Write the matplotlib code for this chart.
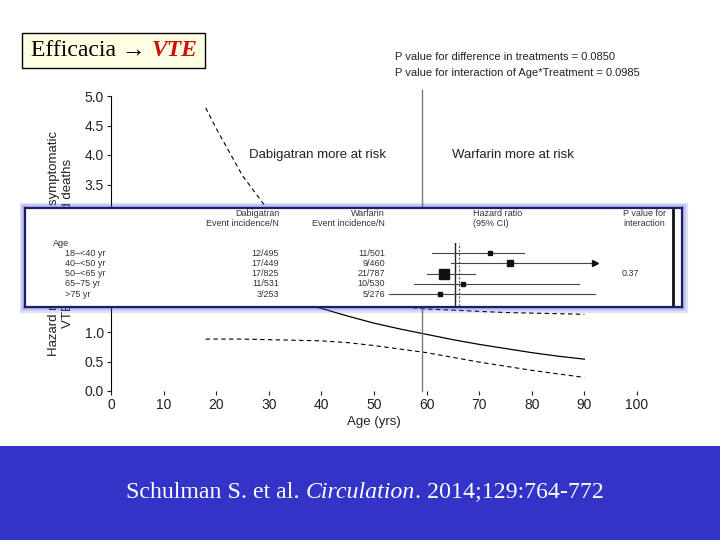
import matplotlib
matplotlib.use('Agg')
import matplotlib.pyplot as plt
from matplotlib.patches import Rectangle
from matplotlib.transforms import blended_transform_factory

plt.rcParams['font.family'] = ['Liberation Sans', 'DejaVu Sans']

# hazard ratio curve vs age
age = [18, 20, 25, 30, 35, 40, 45, 50, 55, 60, 65, 70, 75, 80, 85, 90]
hr_est = [2.08, 2.00, 1.82, 1.66, 1.51, 1.40, 1.27, 1.15, 1.05, 0.96, 0.87, 0.79, 0.72, 0.65, 0.59, 0.54]
hr_upper = [4.80, 4.45, 3.65, 3.05, 2.45, 1.95, 1.65, 1.50, 1.43, 1.39, 1.37, 1.35, 1.33, 1.32, 1.31, 1.30]
hr_lower = [0.88, 0.88, 0.88, 0.87, 0.86, 0.85, 0.82, 0.77, 0.71, 0.65, 0.57, 0.49, 0.42, 0.35, 0.29, 0.23]
cut_age = 59.1
x_ticks = [0, 10, 20, 30, 40, 50, 60, 70, 80, 90, 100]
y_ticks = [0.0, 0.5, 1.0, 1.5, 2.0, 2.5, 3.0, 3.5, 4.0, 4.5, 5.0]

# subgroup table (inset)
age_groups = ['18\u2013<40 yr', '40\u2013<50 yr', '50\u2013<65 yr', '65\u201375 yr', '>75 yr']
dabi_n = ['12/495', '17/449', '17/825', '11/531', '3/253']
warf_n = ['11/501', '9/460', '21/787', '10/530', '5/276']
sub_hr = [2.18, 3.40, 0.78, 1.19, 0.72]
sub_lo = [0.60, 0.91, 0.54, 0.40, 0.23]
sub_hi = [4.63, 22.4, 1.56, 15.7, 22.4]
sub_arrow = [False, True, False, False, False]
sub_size = [3, 4.5, 6.5, 3, 3.5]
overall_hr = 1.09
p_interaction = '0.37'

W, H = 720, 540
fx = lambda px: px / W
fy = lambda py: 1 - py / H

fig = plt.figure(figsize=(7.2, 5.4), dpi=100)

# main chart
ax = fig.add_axes([fx(111), fy(391), fx(637) - fx(111), fy(96) - fy(391)])
ax.plot(age, hr_est, color='black', lw=0.9)
ax.plot(age, hr_upper, color='black', lw=0.8, ls=(0, (4, 3)))
ax.plot(age, hr_lower, color='black', lw=0.8, ls=(0, (4, 3)))
ax.axvline(cut_age, ymin=0, ymax=5.1 / 5, color='#777777', lw=1, clip_on=False)
ax.text(26.2, 4.0, 'Dabigatran more at risk', va='center', fontsize=9.5, color='#222222')
ax.text(64.8, 4.0, 'Warfarin more at risk', va='center', fontsize=9.5, color='#222222')
ax.set_xlim(0, 100)
ax.set_ylim(0, 5)
ax.set_xticks(x_ticks)
ax.set_yticks(y_ticks)
ax.set_yticklabels(['%.1f' % v for v in y_ticks])
ax.tick_params(labelsize=10, colors='#222222', length=3, width=0.8, pad=2)
for s in ['top', 'right', 'bottom']:
    ax.spines[s].set_visible(False)
ax.spines['left'].set_linewidth(0.8)
ax.set_xlabel('Age (yrs)', fontsize=9.5, color='#222222', labelpad=3)
ax.set_ylabel('Hazard ratio for recurrent symptomatic\nVTE and VTE-related deaths',
              fontsize=9.5, color='#222222', labelpad=8)
ax.patch.set_alpha(0)

fig.text(fx(395), fy(57), 'P value for difference in treatments = 0.0850', va='center', fontsize=8, color='#222222')
fig.text(fx(395), fy(73), 'P value for interaction of Age*Treatment = 0.0985', va='center', fontsize=8, color='#222222')

# inset with soft glow
ix0, ix1, iy0, iy1 = 25, 682, 208, 307
for lw in [8, 5.5, 3]:
    fig.add_artist(Rectangle((fx(ix0), fy(iy1)), fx(ix1) - fx(ix0), fy(iy0) - fy(iy1),
                             transform=fig.transFigure, fill=False, edgecolor='#5050d8',
                             lw=lw, alpha=0.18, zorder=4))
inset = fig.add_axes([fx(ix0), fy(iy1), fx(ix1) - fx(ix0), fy(iy0) - fy(iy1)], zorder=5)
inset.set_xticks([])
inset.set_yticks([])
for s in inset.spines.values():
    s.set_color('#1e1e66')
    s.set_linewidth(1.6)
inset.set_xlim(0, 1)
inset.axvline(0.986, color='#111111', lw=2)

# forest plot
fax = fig.add_axes([fx(380), fy(306), fx(600) - fx(380), fy(243) - fy(306)], zorder=6)
fax.patch.set_alpha(0)
fax.set_xscale('log')
fax.set_xlim(0.189, 25.1)
fax.set_ylim(5.17, -0.98)
fax.axis('off')
fax.axvline(1, color='#222222', lw=1)
fax.axvline(overall_hr, color='#555555', lw=0.8, ls=(0, (2, 1.5)))
for i in range(len(sub_hr)):
    fax.plot([sub_lo[i], sub_hi[i]], [i, i], color='#444444', lw=0.8)
    fax.plot(sub_hr[i], i, marker='s', ms=sub_size[i], color='#111111')
    if sub_arrow[i]:
        fax.plot(sub_hi[i], i, marker='>', ms=4, color='#111111', clip_on=False)

tr = blended_transform_factory(fig.transFigure, fax.transData)
tcol = '#333333'
fs = 6.5
for i in range(len(age_groups)):
    fax.text(fx(65), i, age_groups[i], transform=tr, va='center', fontsize=fs, color=tcol)
    fax.text(fx(279), i, dabi_n[i], transform=tr, va='center', ha='right', fontsize=fs, color=tcol)
    fax.text(fx(385), i, warf_n[i], transform=tr, va='center', ha='right', fontsize=fs, color=tcol)
fax.text(fx(622), 2, p_interaction, transform=tr, va='center', fontsize=fs, color=tcol)
fax.text(fx(53), fy(244), 'Age', transform=fig.transFigure, va='center', fontsize=fs, color=tcol)
fax.text(fx(279), fy(218.5), 'Dabigatran\nEvent incidence/N', transform=fig.transFigure,
         va='center', ha='right', multialignment='right', fontsize=fs, color=tcol)
fax.text(fx(385), fy(218.5), 'Warfarin\nEvent incidence/N', transform=fig.transFigure,
         va='center', ha='right', multialignment='right', fontsize=fs, color=tcol)
fax.text(fx(473), fy(218.5), 'Hazard ratio\n(95% CI)', transform=fig.transFigure,
         va='center', fontsize=fs, color=tcol)
fax.text(fx(623), fy(218.5), 'P value for\ninteraction', transform=fig.transFigure,
         va='center', fontsize=fs, color=tcol)

# title box and footer band
fig.add_artist(Rectangle((fx(22), fy(68)), fx(205) - fx(22), fy(33) - fy(68),
                         transform=fig.transFigure, facecolor='#ffffe4', edgecolor='black', lw=1, zorder=2))
fig.add_artist(Rectangle((0, 0), 1, fy(446), transform=fig.transFigure,
                         facecolor='#3333c8', edgecolor='none', zorder=2))

serif = ['Liberation Serif', 'DejaVu Serif']
renderer = fig.canvas.get_renderer()


def chain(parts, x, y, **kw):
    for s, style in parts:
        t = fig.text(x, y, s, family=serif, va='center', zorder=3, **kw, **style)
        bb = t.get_window_extent(renderer=renderer)
        x = bb.x1 / fig.bbox.width


chain([('Efficacia \u2192 ', {'color': 'black'}),
       ('VTE', {'color': '#cc1111', 'style': 'italic', 'weight': 'bold'})],
      fx(31), fy(50), fontsize=17)
chain([('Schulman S. et al. ', {}), ('Circulation', {'style': 'italic'}),
       ('. 2014;129:764-772', {})],
      fx(126), fy(492), fontsize=17.2, color='white')

fig.savefig('out.png', dpi=100)
